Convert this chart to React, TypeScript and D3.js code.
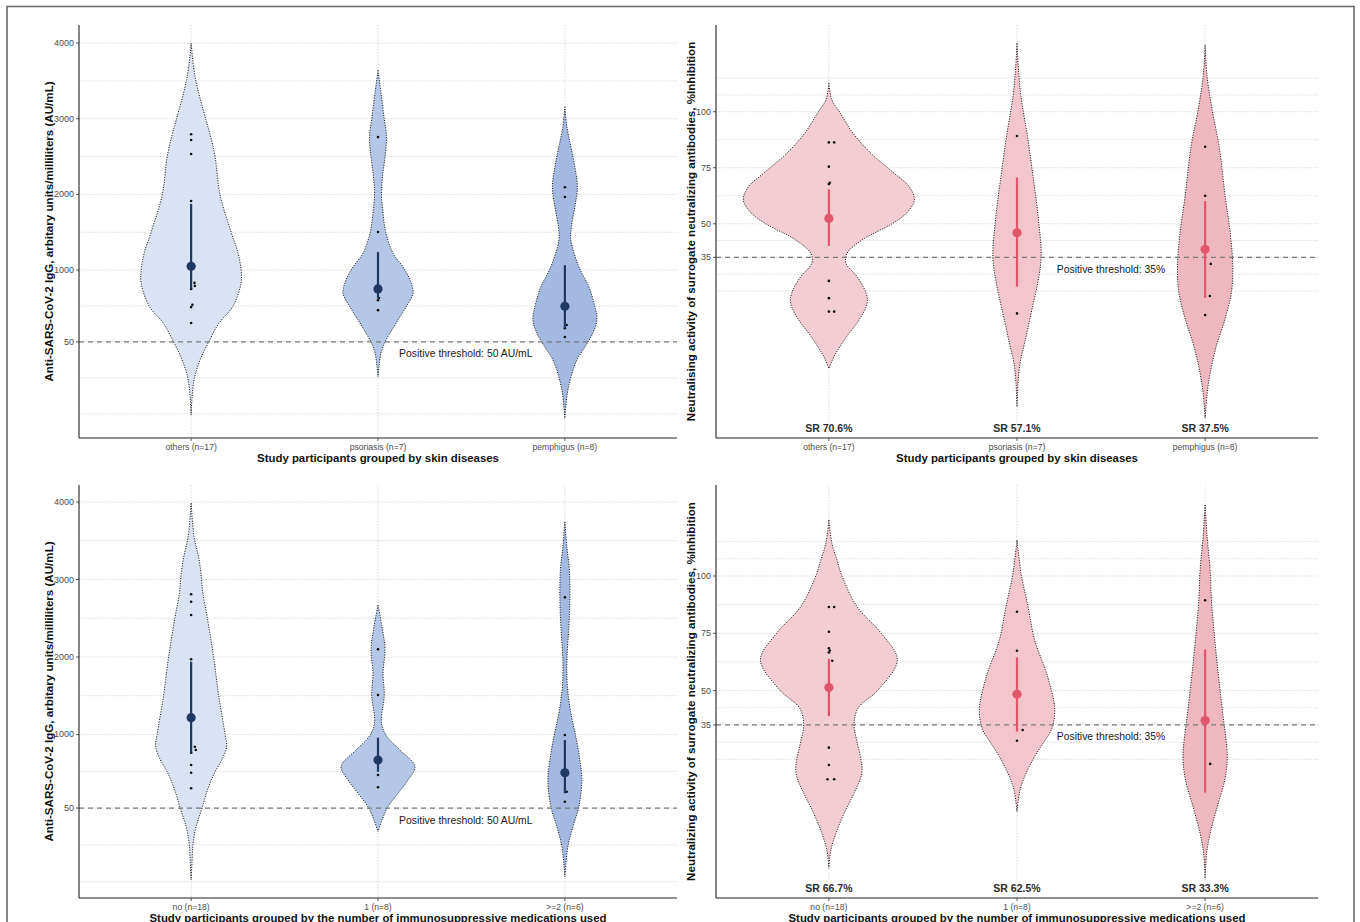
import React from 'react';
import * as d3 from 'd3';

// ---------- categories & axis labels ----------
const skinCategories = ['others (n=17)', 'psoriasis (n=7)', 'pemphigus (n=8)'];
const medCategories = ['no (n=18)', '1 (n=8)', '>=2 (n=6)'];

const iggTicks = [50, 1000, 2000, 3000, 4000];
const iggGridMajor = [-900, 50, 1000, 2000, 3000, 4000];
const iggGridMinor = [-425, 525, 1500, 2500, 3500];
const nabTicks = [35, 50, 75, 100];
const nabGridMajor = [20, 35, 50, 75, 100, 115];
const nabGridMinor = [27.5, 42.5, 62.5, 87.5, 107.5];

const srSkin = ['SR 70.6%', 'SR 57.1%', 'SR 37.5%'];
const srMed = ['SR 66.7%', 'SR 62.5%', 'SR 33.3%'];

// ---------- violin density profiles: [value, relative half-width] ----------
const iggSkinOthers: [number, number][] = [[4000, 0], [3550, 4], [2980, 15], [2790, 19], [2494, 24], [1990, 29], [1502, 40], [1222, 47], [1000, 50], [828, 50], [524, 42], [300, 28], [49, 17.5], [-188, 9], [-426, 3.3], [-677, 1], [-915, 0]];
const iggSkinPsoriasis: [number, number][] = [[3640, 0], [3340, 3], [3022, 6], [2757, 8.5], [2494, 7], [2230, 4.5], [2016, 3.5], [1752, 5], [1488, 8], [1222, 15], [1040, 25], [869, 32], [697, 35], [513, 28], [341, 20], [167, 12], [49, 7], [-95, 3], [-280, 1], [-415, 0]];
const iggSkinPemphigus: [number, number][] = [[3158, 0], [2894, 2], [2630, 6], [2366, 10], [2098, 12.5], [1834, 10], [1570, 6.5], [1396, 6], [1045, 14], [780, 24], [517, 30], [341, 32], [167, 28], [-18, 20], [-188, 12], [-415, 6], [-626, 2.5], [-957, 0]];

const iggMedNo: [number, number][] = [[3985, 0], [3553, 3], [3252, 8], [3002, 10.5], [2825, 11.7], [2520, 16], [2003, 22.5], [1505, 27.5], [1001, 34], [842, 35.5], [680, 31], [519, 24], [305, 17], [54, 11], [-191, 5], [-405, 2], [-621, 1], [-879, 0]];
const iggMedOne: [number, number][] = [[2671, 0], [2391, 4], [2099, 7], [1789, 5], [1509, 6.3], [1144, 3.5], [971, 9], [799, 22], [584, 37], [412, 30], [240, 20], [67, 10], [-105, 4], [-256, 0]];
const iggMedTwo: [number, number][] = [[3746, 0], [3423, 2], [3123, 4.5], [2770, 5], [2391, 4], [1961, 2], [1616, 2.5], [1273, 6], [971, 11], [670, 15], [412, 17], [67, 14], [-191, 8], [-449, 3], [-836, 0]];

const nabSkinOthers: [number, number][] = [[112.7, 0], [105.2, 3], [100, 10.5], [90.4, 24], [81.4, 42], [72.5, 65], [66.5, 80], [60.6, 85], [54.7, 77], [49.8, 62], [42.8, 33], [36.8, 18], [32.4, 17], [26.4, 28], [19, 37], [14.5, 38], [7.1, 30], [1.1, 20], [-4.8, 11], [-9.3, 5], [-14.5, 0]];
const nabSkinPsoriasis: [number, number][] = [[130.5, 0], [118.6, 1.5], [106.7, 4], [88.8, 10.5], [71, 16], [53.2, 21], [35.3, 24], [23.4, 20.5], [10, 14], [-3.3, 7.5], [-12.2, 3], [-21.2, 1], [-31.6, 0]];
const nabSkinPemphigus: [number, number][] = [[129.8, 0], [115.6, 2], [100.8, 7], [84.4, 14], [62.1, 20], [45.8, 25], [30.9, 27.5], [19, 26], [7.1, 19.5], [-4.8, 11], [-16.7, 5], [-25.6, 2], [-36.8, 0]];

const nabMedNo: [number, number][] = [[124.4, 0], [114.3, 3], [107, 8], [100, 13], [86.6, 28], [75, 52], [63.4, 68], [50.3, 49], [42.3, 29], [35, 25], [27.7, 28], [19.7, 32], [13.9, 32.7], [5.2, 25], [-3.6, 15], [-12.3, 7], [-19.5, 2], [-27.5, 0]];
const nabMedOne: [number, number][] = [[115.7, 0], [101.2, 4], [86.6, 11], [72.1, 17.5], [56.1, 30.5], [41.5, 37.5], [32.8, 34], [27.1, 26], [21.2, 17.5], [13.9, 9], [6.6, 3], [-2.8, 0]];
const nabMedTwo: [number, number][] = [[131, 0], [117.1, 2], [102.6, 5], [89.5, 6.3], [75, 9], [57.5, 13], [40.1, 17.5], [21.2, 22], [11, 19.5], [-0.7, 12], [-12.3, 5], [-21, 1.5], [-31.9, 0]];

// ---------- means and 95% CI ----------
const iggSkinMean = [1050, 750, 520];
const iggSkinLow = [750, 625, 230];
const iggSkinHigh = [1875, 1240, 1065];
const iggMedMean = [1216, 670, 506];
const iggMedLow = [756, 519, 240];
const iggMedHigh = [1939, 958, 928];
const nabSkinMean = [52.4, 46.0, 38.6];
const nabSkinLow = [40.1, 21.9, 17.0];
const nabSkinHigh = [65.4, 70.6, 60.2];
const nabMedMean = [51.3, 48.4, 36.9];
const nabMedLow = [38.9, 32.1, 5.5];
const nabMedHigh = [63.8, 64.5, 68.0];

// ---------- individual observations: [value, jitter (category units)] ----------
const iggSkinDots: [number, number][][] = [
  [[2795, 0], [2718, 0], [2533, 0], [1913, 0], [830, 0.018], [790, 0.02], [750, 0], [540, 0.007], [510, 0], [300, 0]],
  [[2757, 0], [1503, 0], [630, 0.005], [600, 0], [470, 0]],
  [[2094, 0], [1965, 0], [274, 0.01], [230, 0], [116, 0]],
];
const iggMedDots: [number, number][][] = [
  [[2809, 0], [2713, 0], [2541, 0], [1970, 0], [840, 0.02], [800, 0.025], [764, 0], [605, 0], [506, 0], [305, 0]],
  [[2099, 0], [1509, 0], [476, 0], [318, 0]],
  [[2770, 0], [993, 0], [261, 0.01], [132, 0]],
];
const nabSkinDots: [number, number][][] = [
  [[86.3, 0], [86.3, 0.028], [75.5, 0], [68.3, 0.005], [67.7, 0], [24.5, 0], [16.8, 0], [10.8, 0], [10.8, 0.028]],
  [[89.2, 0], [10, 0]],
  [[84.4, 0], [62.5, 0], [32.1, 0.03], [17.8, 0.025], [9.3, 0]],
];
const nabMedDots: [number, number][][] = [
  [[86.5, 0], [86.5, 0.028], [75.7, 0], [68.5, 0], [67.5, 0.005], [66.6, 0], [63, 0.018], [25.1, 0], [17.5, 0], [11.3, -0.007], [11.3, 0.028]],
  [[84.4, 0], [67.4, 0], [32.8, 0.03], [28.1, 0]],
  [[89.4, 0], [18, 0.027]],
];

const blueFills = ['#dae3f3', '#b4c7e8', '#a3b9e1'];
const redFills = ['#f4cdd2', '#f2c6cc', '#efb8c0'];
const FONT = "'Liberation Sans', Arial, Helvetica, sans-serif";

type PanelProps = {
  box: { left: number; right: number; top: number; bottom: number };
  cats: string[];
  profiles: [number, number][][];
  fills: string[];
  means: number[];
  lows: number[];
  highs: number[];
  dots: [number, number][][];
  yDomain: [number, number];
  ticks: number[];
  gridMajor: number[];
  gridMinor: number[];
  threshold: number;
  thresholdLabel: string;
  labelPos: number;
  yTitle: string;
  yTitleOffset: number;
  xTitle: string;
  sr?: string[];
  markColor: string;
};

function Panel(p: PanelProps) {
  const { box } = p;
  const x = d3.scalePoint<string>().domain(p.cats).range([box.left, box.right]).padding(0.6);
  const step = x.step();
  const y = d3.scaleLinear().domain(p.yDomain).range([box.bottom, box.top]);
  const w = d3.scaleLinear().domain([0, 187]).range([0, step]);
  const catPos = (pos: number) => (x(p.cats[0]) as number) + (pos - 1) * step;
  const gridStyle = { stroke: '#d2d2d2', strokeWidth: 0.8, strokeDasharray: '1.5 1.5' };
  const midY = (box.top + box.bottom) / 2;
  const midX = (box.left + box.right) / 2;
  return (
    <g>
      {[...p.gridMajor, ...p.gridMinor].map((v, i) => (
        <line key={'g' + i} x1={box.left} x2={box.right} y1={y(v)} y2={y(v)} {...gridStyle} />
      ))}
      {p.cats.map((c) => (
        <line key={'v' + c} x1={x(c)} x2={x(c)} y1={box.top} y2={box.bottom} {...gridStyle} />
      ))}
      {p.cats.map((c, i) => {
        const cx = x(c) as number;
        const area = d3
          .area<[number, number]>()
          .curve(d3.curveCatmullRom.alpha(0.5))
          .y((d) => y(d[0]))
          .x0((d) => cx - w(d[1]))
          .x1((d) => cx + w(d[1]));
        return (
          <path key={'vi' + c} d={area(p.profiles[i]) || ''} fill={p.fills[i]} stroke="#1a1a1a"
            strokeWidth={1} strokeDasharray="1.1 1.4" />
        );
      })}
      <line x1={box.left} x2={box.right} y1={y(p.threshold)} y2={y(p.threshold)}
        stroke="#7a7a7a" strokeWidth={1.3} strokeDasharray="5 4" />
      <text x={catPos(p.labelPos)} y={y(p.threshold) + 12} fontFamily={FONT} fontSize={10.4}
        fill="#1a1a1a" textAnchor="middle" dominantBaseline="central">{p.thresholdLabel}</text>
      {p.cats.map((c, i) => {
        const cx = x(c) as number;
        return (
          <g key={'m' + c}>
            {p.dots[i].map((d, j) => (
              <circle key={j} cx={cx + d[1] * step} cy={y(d[0])} r={1.3} fill="#111" />
            ))}
            <line x1={cx} x2={cx} y1={y(p.lows[i])} y2={y(p.highs[i])} stroke={p.markColor} strokeWidth={2.2} />
            <circle cx={cx} cy={y(p.means[i])} r={4.6} fill={p.markColor} />
          </g>
        );
      })}
      {p.sr && p.cats.map((c, i) => (
        <text key={'sr' + c} x={x(c)} y={box.bottom - 10} fontFamily={FONT} fontWeight="bold" fontSize={10.5}
          fill="#2b2b2b" textAnchor="middle" dominantBaseline="central">{p.sr![i]}</text>
      ))}
      <line x1={box.left} x2={box.left} y1={box.top} y2={box.bottom} stroke="#222" strokeWidth={1.1} />
      <line x1={box.left} x2={box.right} y1={box.bottom} y2={box.bottom} stroke="#222" strokeWidth={1.1} />
      {p.ticks.map((t) => (
        <g key={'t' + t}>
          <line x1={box.left - 3} x2={box.left} y1={y(t)} y2={y(t)} stroke="#333" strokeWidth={0.8} />
          <text x={box.left - 5} y={y(t)} fontFamily={FONT} fontSize={9} fill="#4d4d4d" textAnchor="end"
            dominantBaseline="central">{t}</text>
        </g>
      ))}
      {p.cats.map((c) => (
        <g key={'xt' + c}>
          <line x1={x(c)} x2={x(c)} y1={box.bottom} y2={box.bottom + 3} stroke="#333" strokeWidth={0.8} />
          <text x={x(c)} y={box.bottom + 8.5} fontFamily={FONT} fontSize={8.6} fill="#4d4d4d" textAnchor="middle"
            dominantBaseline="central">{c}</text>
        </g>
      ))}
      <text x={midX} y={box.bottom + 19.5} fontFamily={FONT} fontWeight="bold" fontSize={11.4} fill="#111"
        textAnchor="middle" dominantBaseline="central">{p.xTitle}</text>
      <text transform={`translate(${box.left - p.yTitleOffset},${midY}) rotate(-90)`} fontFamily={FONT} fontWeight="bold"
        fontSize={11.6} fill="#111" textAnchor="middle" dominantBaseline="central">{p.yTitle}</text>
    </g>
  );
}

export default function App() {
  const iggTitle = 'Anti-SARS-CoV-2 IgG, arbitary units/milliliters (AU/mL)';
  const skinX = 'Study participants grouped by skin diseases';
  const medX = 'Study participants grouped by the number of immunosuppressive medications used';
  return (
    <svg width={1360} height={922} style={{ position: 'absolute', left: 0, top: 0, background: '#fff' }}>
      <rect x={0} y={0} width={1360} height={922} fill="#fff" />
      <rect x={7} y={6.5} width={1347} height={940} fill="none" stroke="#6a6a6a" strokeWidth={1.6} />
      <Panel box={{ left: 79, right: 677, top: 25, bottom: 438 }} cats={skinCategories}
        profiles={[iggSkinOthers, iggSkinPsoriasis, iggSkinPemphigus]} fills={blueFills}
        means={iggSkinMean} lows={iggSkinLow} highs={iggSkinHigh} dots={iggSkinDots}
        yDomain={[-1220, 4239]} ticks={iggTicks} gridMajor={iggGridMajor} gridMinor={iggGridMinor}
        threshold={50} thresholdLabel="Positive threshold: 50 AU/mL" labelPos={2.47}
        yTitle={iggTitle} yTitleOffset={31} xTitle={skinX} markColor="#1f3864" />
      <Panel box={{ left: 716, right: 1318, top: 25, bottom: 438 }} cats={skinCategories}
        profiles={[nabSkinOthers, nabSkinPsoriasis, nabSkinPemphigus]} fills={redFills}
        means={nabSkinMean} lows={nabSkinLow} highs={nabSkinHigh} dots={nabSkinDots}
        yDomain={[-45.6, 138.7]} ticks={nabTicks} gridMajor={nabGridMajor} gridMinor={nabGridMinor}
        threshold={35} thresholdLabel="Positive threshold: 35%" labelPos={2.5}
        yTitle="Neutralising activity of surrogate neutralizing antibodies, %Inhibition" yTitleOffset={26}
        xTitle={skinX} sr={srSkin} markColor="#e0566c" />
      <Panel box={{ left: 79, right: 677, top: 485, bottom: 898 }} cats={medCategories}
        profiles={[iggMedNo, iggMedOne, iggMedTwo]} fills={blueFills}
        means={iggMedMean} lows={iggMedLow} highs={iggMedHigh} dots={iggMedDots}
        yDomain={[-1111, 4220]} ticks={iggTicks} gridMajor={iggGridMajor} gridMinor={iggGridMinor}
        threshold={50} thresholdLabel="Positive threshold: 50 AU/mL" labelPos={2.47}
        yTitle={iggTitle} yTitleOffset={31} xTitle={medX} markColor="#1f3864" />
      <Panel box={{ left: 716, right: 1318, top: 485, bottom: 898 }} cats={medCategories}
        profiles={[nabMedNo, nabMedOne, nabMedTwo]} fills={redFills}
        means={nabMedMean} lows={nabMedLow} highs={nabMedHigh} dots={nabMedDots}
        yDomain={[-40.5, 139.7]} ticks={nabTicks} gridMajor={nabGridMajor} gridMinor={nabGridMinor}
        threshold={35} thresholdLabel="Positive threshold: 35%" labelPos={2.5}
        yTitle="Neutralizing activity of surrogate neutralizing antibodies, %Inhibition" yTitleOffset={26}
        xTitle={medX} sr={srMed} markColor="#e0566c" />
    </svg>
  );
}
